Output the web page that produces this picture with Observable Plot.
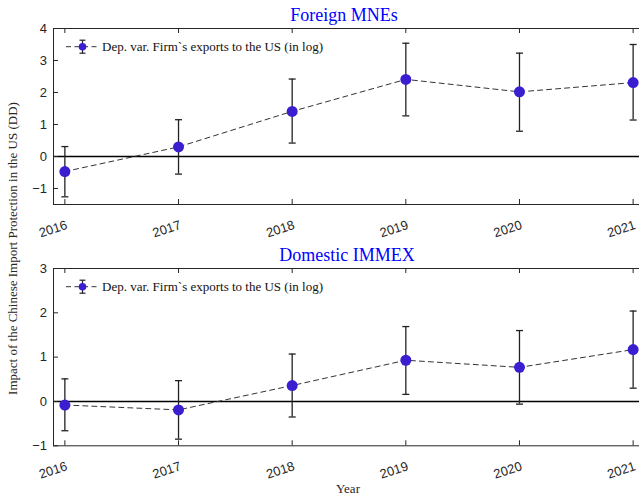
<!DOCTYPE html>
<html>
<head>
<meta charset="utf-8">
<script src="https://cdn.jsdelivr.net/npm/d3@7"></script>
<script src="https://cdn.jsdelivr.net/npm/@observablehq/plot@0.6"></script>
<style>
  html, body { margin: 0; padding: 0; background: #fff; overflow: hidden; }
  #fig { position: relative; width: 639px; height: 497px; overflow: hidden; background: #fff; }
  #fig > svg { position: absolute; left: 0; max-width: none !important; }
</style>
</head>
<body>
<div id="fig"></div>
<script>
// Event-study estimates by year, with confidence bounds
const years = [2016, 2017, 2018, 2019, 2020, 2021];

const foreignEst = [-0.47, 0.30, 1.41, 2.41, 2.02, 2.31];
const foreignLo  = [-1.26, -0.55, 0.42, 1.27, 0.79, 1.14];
const foreignHi  = [0.31, 1.15, 2.42, 3.54, 3.23, 3.50];

const domesticEst = [-0.08, -0.19, 0.36, 0.93, 0.77, 1.17];
const domesticLo  = [-0.66, -0.85, -0.35, 0.16, -0.06, 0.30];
const domesticHi  = [0.51, 0.47, 1.07, 1.69, 1.60, 2.04];

const foreignTicks = [-1, 0, 1, 2, 3, 4];
const domesticTicks = [-1, 0, 1, 2, 3];

const panelTitles = ["Foreign MNEs", "Domestic IMMEX"];
const legendLabel = "Dep. var. Firm`s exports to the US (in log)";
const yAxisLabel = "Impact of the Chinese Import Protection in the US (DD)";
const xAxisLabel = "Year";

const pointColor = "#3a1fd0";
const axisColor = "#262626";

// horizontal cap for the error bars
const capSymbol = {
  draw(context, size) {
    const w = Math.sqrt(size / Math.PI);
    context.moveTo(-w, 0);
    context.lineTo(w, 0);
  }
};

function panel({est, lo, hi, yDomain, yTicks, height, marginBottom}) {
  const data = years.map((year, i) => ({year, est: est[i], lo: lo[i], hi: hi[i]}));
  const width = 654, marginLeft = 53, marginRight = 10, marginTop = 28;
  const pw = width - marginLeft - marginRight;
  const ph = height - marginTop - marginBottom;
  const svg = Plot.plot({
    width, height, marginLeft, marginRight, marginTop, marginBottom,
    style: {
      fontFamily: "'Liberation Sans', Arial, sans-serif",
      fontSize: "13px",
      color: axisColor,
      background: "transparent",
      overflow: "visible",
      maxWidth: "none"
    },
    x: {domain: [2015.9, 2021.1], label: null},
    y: {domain: yDomain, label: null},
    marks: [
      Plot.ruleY([0], {stroke: "#000", strokeWidth: 1.6}),
      Plot.line(data, {x: "year", y: "est", stroke: "#333", strokeWidth: 1, strokeDasharray: "5,4"}),
      Plot.ruleX(data, {x: "year", y1: "lo", y2: "hi", stroke: "#222", strokeWidth: 1.3}),
      Plot.dot(data, {x: "year", y: "lo", symbol: capSymbol, r: 3.5, stroke: "#222", strokeWidth: 1.3}),
      Plot.dot(data, {x: "year", y: "hi", symbol: capSymbol, r: 3.5, stroke: "#222", strokeWidth: 1.3}),
      Plot.dot(data, {x: "year", y: "est", r: 5.5, fill: pointColor, stroke: "none"}),
      // inward tick marks on all four sides
      Plot.ruleX(years, {x: d => d, insetTop: ph - 5, stroke: axisColor}),
      Plot.ruleX(years, {x: d => d, insetBottom: ph - 5, stroke: axisColor}),
      Plot.ruleY(yTicks, {y: d => d, insetRight: pw - 5, stroke: axisColor}),
      Plot.ruleY(yTicks, {y: d => d, insetLeft: pw - 5, stroke: axisColor}),
      Plot.frame({stroke: axisColor, strokeWidth: 1}),
      Plot.axisX(years, {tickFormat: d => String(d), tickRotate: -18, tickSize: 0, tickPadding: 20, dx: 2, label: null, fill: axisColor}),
      Plot.axisY(yTicks, {tickSize: 0, tickPadding: 6.5, label: null, fill: axisColor})
    ]
  });
  svg.style.maxWidth = "none";
  svg.style.width = width + "px";
  svg.style.height = height + "px";
  return svg;
}

const fig = d3.select("#fig");

const upperPanel = panel({est: foreignEst, lo: foreignLo, hi: foreignHi, yDomain: [-1.5, 4], yTicks: foreignTicks, height: 239, marginBottom: 35});
upperPanel.style.top = "0px";
fig.node().appendChild(upperPanel);

const lowerPanel = panel({est: domesticEst, lo: domesticLo, hi: domesticHi, yDomain: [-1, 3], yTicks: domesticTicks, height: 241, marginBottom: 35.7});
lowerPanel.style.top = "240px";
fig.node().appendChild(lowerPanel);

// titles, legends and shared axis labels
const overlay = fig.append("svg")
  .attr("width", 639).attr("height", 497)
  .style("top", "0px")
  .style("font-family", "'Liberation Serif', 'Times New Roman', serif");

const titleSpots = [{x: 344, y: 21}, {x: 347, y: 261}];
panelTitles.forEach((t, i) => {
  overlay.append("text")
    .attr("x", titleSpots[i].x).attr("y", titleSpots[i].y)
    .attr("text-anchor", "middle")
    .attr("font-size", 18)
    .attr("fill", "#0000ff")
    .text(t);
});

[0, 240].forEach(off => {
  const g = overlay.append("g").attr("transform", `translate(0,${off + 46.7})`);
  g.append("line").attr("x1", 66).attr("x2", 99).attr("y1", 0).attr("y2", 0)
    .attr("stroke", "#333").attr("stroke-dasharray", "5,3.5");
  g.append("line").attr("x1", 82.5).attr("x2", 82.5).attr("y1", -6.5).attr("y2", 6.5).attr("stroke", "#222").attr("stroke-width", 1.2);
  g.append("line").attr("x1", 79.5).attr("x2", 85.5).attr("y1", -6.5).attr("y2", -6.5).attr("stroke", "#222").attr("stroke-width", 1.2);
  g.append("line").attr("x1", 79.5).attr("x2", 85.5).attr("y1", 6.5).attr("y2", 6.5).attr("stroke", "#222").attr("stroke-width", 1.2);
  g.append("circle").attr("cx", 82.5).attr("cy", 0).attr("r", 3.8).attr("fill", pointColor);
  g.append("text").attr("x", 102).attr("y", 4.5).attr("font-size", 13).attr("fill", "#111").text(legendLabel);
});

overlay.append("text")
  .attr("transform", "translate(17,248.5) rotate(-90)")
  .attr("text-anchor", "middle")
  .attr("font-size", 13)
  .attr("fill", axisColor)
  .text(yAxisLabel);

overlay.append("text")
  .attr("x", 348).attr("y", 493)
  .attr("text-anchor", "middle")
  .attr("font-size", 13)
  .attr("fill", axisColor)
  .text(xAxisLabel);
</script>
</body>
</html>
